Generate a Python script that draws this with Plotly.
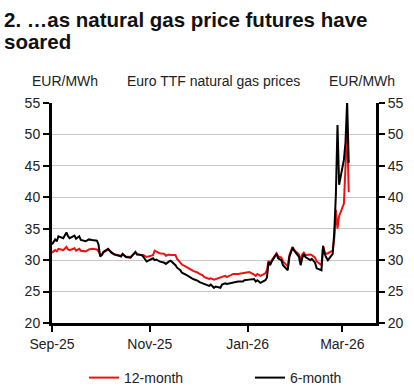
import plotly.graph_objects as go

dates = [
    "2025-09-01", "2025-09-03", "2025-09-04", "2025-09-05", "2025-09-08", "2025-09-09",
    "2025-09-10", "2025-09-11", "2025-09-12", "2025-09-15", "2025-09-16", "2025-09-18",
    "2025-09-19", "2025-09-22", "2025-09-24", "2025-09-26", "2025-09-29", "2025-09-30",
    "2025-10-01", "2025-10-02", "2025-10-03", "2025-10-06", "2025-10-08", "2025-10-10",
    "2025-10-13", "2025-10-14", "2025-10-15", "2025-10-17", "2025-10-20", "2025-10-21",
    "2025-10-23", "2025-10-24", "2025-10-27", "2025-10-28", "2025-10-30", "2025-11-03",
    "2025-11-04", "2025-11-05", "2025-11-07", "2025-11-10", "2025-11-11", "2025-11-13",
    "2025-11-14", "2025-11-17", "2025-11-18", "2025-11-20", "2025-11-21", "2025-11-24",
    "2025-11-26", "2025-11-28", "2025-12-01", "2025-12-02", "2025-12-04", "2025-12-05",
    "2025-12-08", "2025-12-09", "2025-12-11", "2025-12-12", "2025-12-15", "2025-12-16",
    "2025-12-18", "2025-12-19", "2025-12-22", "2025-12-23", "2025-12-26", "2025-12-29",
    "2025-12-30", "2026-01-02", "2026-01-05", "2026-01-06", "2026-01-07", "2026-01-09",
    "2026-01-12", "2026-01-13", "2026-01-14", "2026-01-15", "2026-01-16", "2026-01-19",
    "2026-01-20", "2026-01-22", "2026-01-23", "2026-01-26", "2026-01-27", "2026-01-29",
    "2026-01-30", "2026-02-02", "2026-02-03", "2026-02-04", "2026-02-05", "2026-02-06",
    "2026-02-09", "2026-02-10", "2026-02-12", "2026-02-13", "2026-02-16", "2026-02-17",
    "2026-02-18", "2026-02-19", "2026-02-20", "2026-02-23", "2026-02-24", "2026-02-25",
    "2026-02-26", "2026-02-27", "2026-03-02", "2026-03-03", "2026-03-04", "2026-03-05",
]

twelve_month = [
    31.2, 31.6, 31.4, 31.8, 31.6, 31.9,
    32.1, 31.7, 31.6, 31.9, 31.5, 31.8,
    31.5, 31.4, 31.7, 31.8, 31.7, 31.4,
    30.9, 30.8, 31.2, 31.7, 31.3, 30.9,
    30.8, 30.6, 30.9, 30.6, 30.5, 30.8,
    31.2, 31.0, 30.8, 30.8, 30.5, 30.8,
    31.5, 31.4, 31.1, 31.0, 30.7, 30.9,
    30.8, 30.8, 30.2, 29.6, 29.3, 28.9,
    28.6, 28.3, 28.0, 27.8, 27.6, 27.3,
    27.0, 27.1, 26.9, 27.0, 27.2, 27.4,
    27.5, 27.3, 27.7, 27.8, 27.8, 27.9,
    28.0, 28.1, 27.7, 27.5, 27.8, 27.5,
    27.9, 28.4, 29.9, 29.5, 30.0, 31.1,
    30.6, 30.4, 29.8, 29.0, 30.8, 32.1,
    31.6, 30.9, 30.0, 30.9, 31.2, 30.8,
    30.9, 30.8, 30.4, 29.8, 29.2, 32.3,
    31.3, 31.0, 31.1, 31.5, 33.5, 38.0,
    35.0, 37.0, 39.0, 46.5, 51.0, 40.8,
]

six_month = [
    32.5, 33.3, 33.0, 33.8, 33.5, 34.0,
    34.4, 33.8, 33.5, 33.9, 33.4, 33.8,
    33.2, 33.0, 33.3, 33.2, 33.1, 32.5,
    30.6, 30.8, 31.3, 31.8, 31.2, 30.9,
    30.7, 30.6, 31.0, 30.5, 30.4, 30.7,
    31.3, 30.9, 30.8, 30.5, 29.8, 30.3,
    30.0, 30.1, 29.8, 29.6, 29.4, 29.8,
    29.9, 29.2, 28.8, 28.4, 28.0, 27.6,
    27.3, 27.0, 26.7, 26.5, 26.3, 26.2,
    25.9, 26.1, 25.6, 25.8, 25.6, 26.1,
    26.3, 26.2, 26.4, 26.5, 26.6, 26.6,
    26.8, 26.9, 27.0, 26.6, 26.8, 26.4,
    26.8, 27.2, 29.7, 29.2, 29.8, 31.0,
    30.3, 30.0, 29.2, 28.4, 30.5, 32.0,
    31.5, 30.5, 29.2, 30.3, 31.0, 30.5,
    30.0, 30.2, 29.6, 28.7, 28.4, 32.2,
    31.0, 30.4, 30.0, 31.0, 34.5, 40.5,
    51.5, 42.0, 46.0, 48.8, 55.3, 45.5,
]

x_tick_vals = ["2025-09-01", "2025-11-01", "2026-01-01", "2026-03-01"]
x_tick_text = ["Sep-25", "Nov-25", "Jan-26", "Mar-26"]
y_ticks = [20, 25, 30, 35, 40, 45, 50, 55]

FONT = "Liberation Sans, Arial, sans-serif"

fig = go.Figure()
fig.add_trace(go.Scatter(x=dates, y=twelve_month, name="12-month", mode="lines",
                         line=dict(color="#ee1111", width=2), yaxis="y", legend="legend"))
fig.add_trace(go.Scatter(x=dates, y=six_month, name="6-month", mode="lines",
                         line=dict(color="#000000", width=2), yaxis="y2", legend="legend2"))

axis_common = dict(range=[20, 55], tickvals=y_ticks, ticks="outside", ticklen=6,
                   tickwidth=2, tickcolor="black", showline=True, linecolor="black",
                   linewidth=3, tickfont=dict(size=14, color="#222", family=FONT),
                   zeroline=False, fixedrange=True, automargin=False)

legend_common = dict(orientation="h", xref="container", yref="container",
                     y=1 - 378 / 388, xanchor="left", yanchor="middle",
                     font=dict(size=14, family=FONT, color="#222"),
                     bgcolor="rgba(0,0,0,0)")

fig.update_layout(
    template="none",
    width=414, height=388,
    margin=dict(l=52, r=38, t=103, b=65, autoexpand=False),
    paper_bgcolor="white", plot_bgcolor="white",
    font=dict(family=FONT, color="#222"),
    showlegend=True,
    legend=dict(**legend_common, x=84 / 414),
    legend2=dict(**legend_common, x=250 / 414),
    xaxis=dict(type="date", range=["2025-09-01", "2026-03-22"],
               tickvals=x_tick_vals, ticktext=x_tick_text,
               ticks="outside", ticklen=6, tickwidth=2, tickcolor="black",
               showline=True, linecolor="black", linewidth=3, showgrid=False,
               automargin=False, zeroline=False,
               tickfont=dict(size=14, color="#222", family=FONT)),
    yaxis=dict(**axis_common, side="left", showgrid=True, gridcolor="#c8c8c8",
               gridwidth=1),
    yaxis2=dict(**axis_common, side="right", overlaying="y", showgrid=False),
    annotations=[
        dict(text="<b>2. …as natural gas price futures have</b>", xref="paper", yref="paper",
             x=-50 / 324, y=(323 - 19) / 220, xanchor="left", yanchor="middle",
             showarrow=False, font=dict(size=20.5, family=FONT, color="#111")),
        dict(text="<b>soared</b>", xref="paper", yref="paper",
             x=-50 / 324, y=(323 - 42) / 220, xanchor="left", yanchor="middle",
             showarrow=False, font=dict(size=20.5, family=FONT, color="#111")),
        dict(text="EUR/MWh", xref="paper", yref="paper", x=(65 - 52) / 324,
             y=(323 - 81) / 220, xanchor="center", yanchor="middle", showarrow=False,
             font=dict(size=14, family=FONT, color="#222")),
        dict(text="Euro TTF natural gas prices", xref="paper", yref="paper",
             x=(213 - 52) / 324, y=(323 - 81) / 220, xanchor="center", yanchor="middle",
             showarrow=False, font=dict(size=14, family=FONT, color="#222")),
        dict(text="EUR/MWh", xref="paper", yref="paper", x=(362 - 52) / 324,
             y=(323 - 81) / 220, xanchor="center", yanchor="middle", showarrow=False,
             font=dict(size=14, family=FONT, color="#222")),
    ],
)

fig.write_html(
    "out.html",
    config={"displayModeBar": False},
    post_script="document.body.style.margin='0px';document.body.style.overflow='hidden';",
)
